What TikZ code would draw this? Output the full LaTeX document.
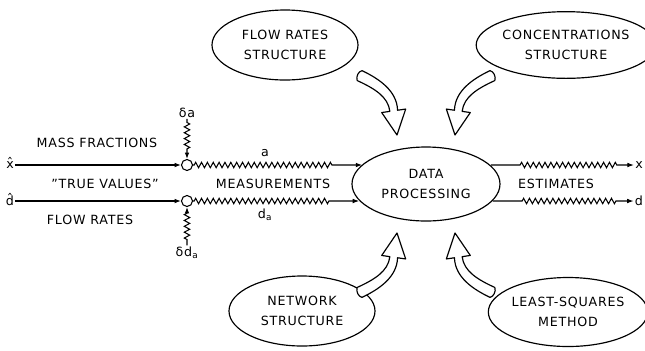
\documentclass[tikz,border=0pt]{standalone}
\usepackage{fontspec}
\setmainfont{DejaVu Sans}[LetterSpace=6]
\usetikzlibrary{shapes.geometric, arrows.meta, positioning, decorations.pathmorphing}
\newcommand\hatletter[2][0pt]{\ooalign{#2\cr\hidewidth\raisebox{#1}{ˆ}\hidewidth\cr}}
\tikzset{
        blob/.style={ellipse, draw, line width=1pt, inner sep=0pt, align=center, minimum width=4.38cm, minimum height=2.1cm},
        tag/.style={inner sep=1pt},
        junct/.style={circle, draw, line width=0.9pt, minimum size=0.33cm, inner sep=0pt},
        signal/.style={line width=0.9pt, -{Latex[length=5.5pt,width=4pt]}},
        zz/.style={decorate, decoration={zigzag, segment length=5pt, amplitude=2.3pt}},
        % hollow bent arrow, tip at the pic origin
        bigarrow/.pic={
            \draw[line width=1pt, fill=white, line join=round, scale=1.1]
                (-31.8,-58.5) .. controls (-16,-51) and (0,-40) .. (0.5,-22.5)
                -- (7.9,-23.6) -- (0,0) -- (-13.9,-20.4) -- (-6.5,-21.5)
                .. controls (-8,-35) and (-21,-42.5) .. (-36.2,-49.5)
                .. controls (-37.5,-53) and (-35,-58) .. cycle;
        },
    }

\begin{document}
\begin{tikzpicture}[x=0.03cm, y=-0.03cm, font=\fontsize{10.8}{17}\selectfont]
        \useasboundingbox (0,0) rectangle (645,350);

        % === STRUCTURE INPUTS ===
        \node[blob] (flowstr) at (285,45) {FLOW RATES\\STRUCTURE};
        \node[blob, minimum width=4.65cm, minimum height=2.0cm] (concstr) at (566,45) {CONCENTRATIONS\\STRUCTURE};
        \node[blob] (netstr) at (302,311) {NETWORK\\STRUCTURE};
        \node[blob, minimum width=4.62cm, minimum height=2.07cm] (lsq) at (568,312) {LEAST-SQUARES\\METHOD};

        % === CENTRE ===
        \node[blob, minimum width=4.44cm, minimum height=2.22cm] (dataproc) at (426,184) {DATA\\PROCESSING};

        \pic at (397,135) {bigarrow};
        \pic[xscale=-1] at (455,135) {bigarrow};
        \pic[yscale=-1] at (397,233) {bigarrow};
        \pic[xscale=-1, yscale=-1] at (455,233) {bigarrow};

        % === TRUE VALUES + NOISE ===
        \node[tag] (xin) at (10,165) {\hatletter[0.1ex]{x}};
        \node[tag] (din) at (10,201) {\hatletter[0.3ex]{d}};
        \node[junct] (jx) at (187,165) {};
        \node[junct] (jd) at (187,201) {};
        \node[tag, above=1.2cm of jx] (noisea) {δa};
        \node[tag, below=1.15cm of jd] (noised) {δd\textsubscript{a}};

        \draw[signal] (xin) -- (jx);
        \draw[signal] (din) -- (jd);
        \draw[signal, zz, decoration={pre length=3pt, post length=8pt}] (noisea) -- (jx);
        \draw[signal, zz, decoration={pre length=5pt, post length=5pt}] (noised) -- (jd);

        \node[tag] (massfr) at (97,143) {MASS FRACTIONS};
        \node[tag] (truev) at (105,184) {"TRUE VALUES"};
        \node[tag] (flowr) at (90,220) {FLOW RATES};

        % === MEASUREMENTS ===
        \draw[signal, zz, decoration={pre length=1pt, post length=24pt}] (jx) -- (dataproc.163.3 |- jx);
        \draw[signal, zz, decoration={pre length=1pt, post length=24pt}] (jd) -- (dataproc.194.5 |- jd);
        \node[tag] (measa) at (265,153) {a};
        \node[tag] (measd) at (265,215) {d\textsubscript{a}};
        \node[tag] (meas) at (273,184) {MEASUREMENTS};

        % === ESTIMATES ===
        \node[tag] (xout) at (639,165) {x};
        \node[tag] (dout) at (639,201) {d};
        \draw[signal, zz, decoration={pre length=25pt, post length=14pt}] (dataproc.16.7 |- jx) -- (xout);
        \draw[signal, zz, decoration={pre length=25pt, post length=14pt}] (dataproc.-14.5 |- jd) -- (dout);
        \node[tag] (est) at (556,184) {ESTIMATES};

    \end{tikzpicture}
\end{document}
